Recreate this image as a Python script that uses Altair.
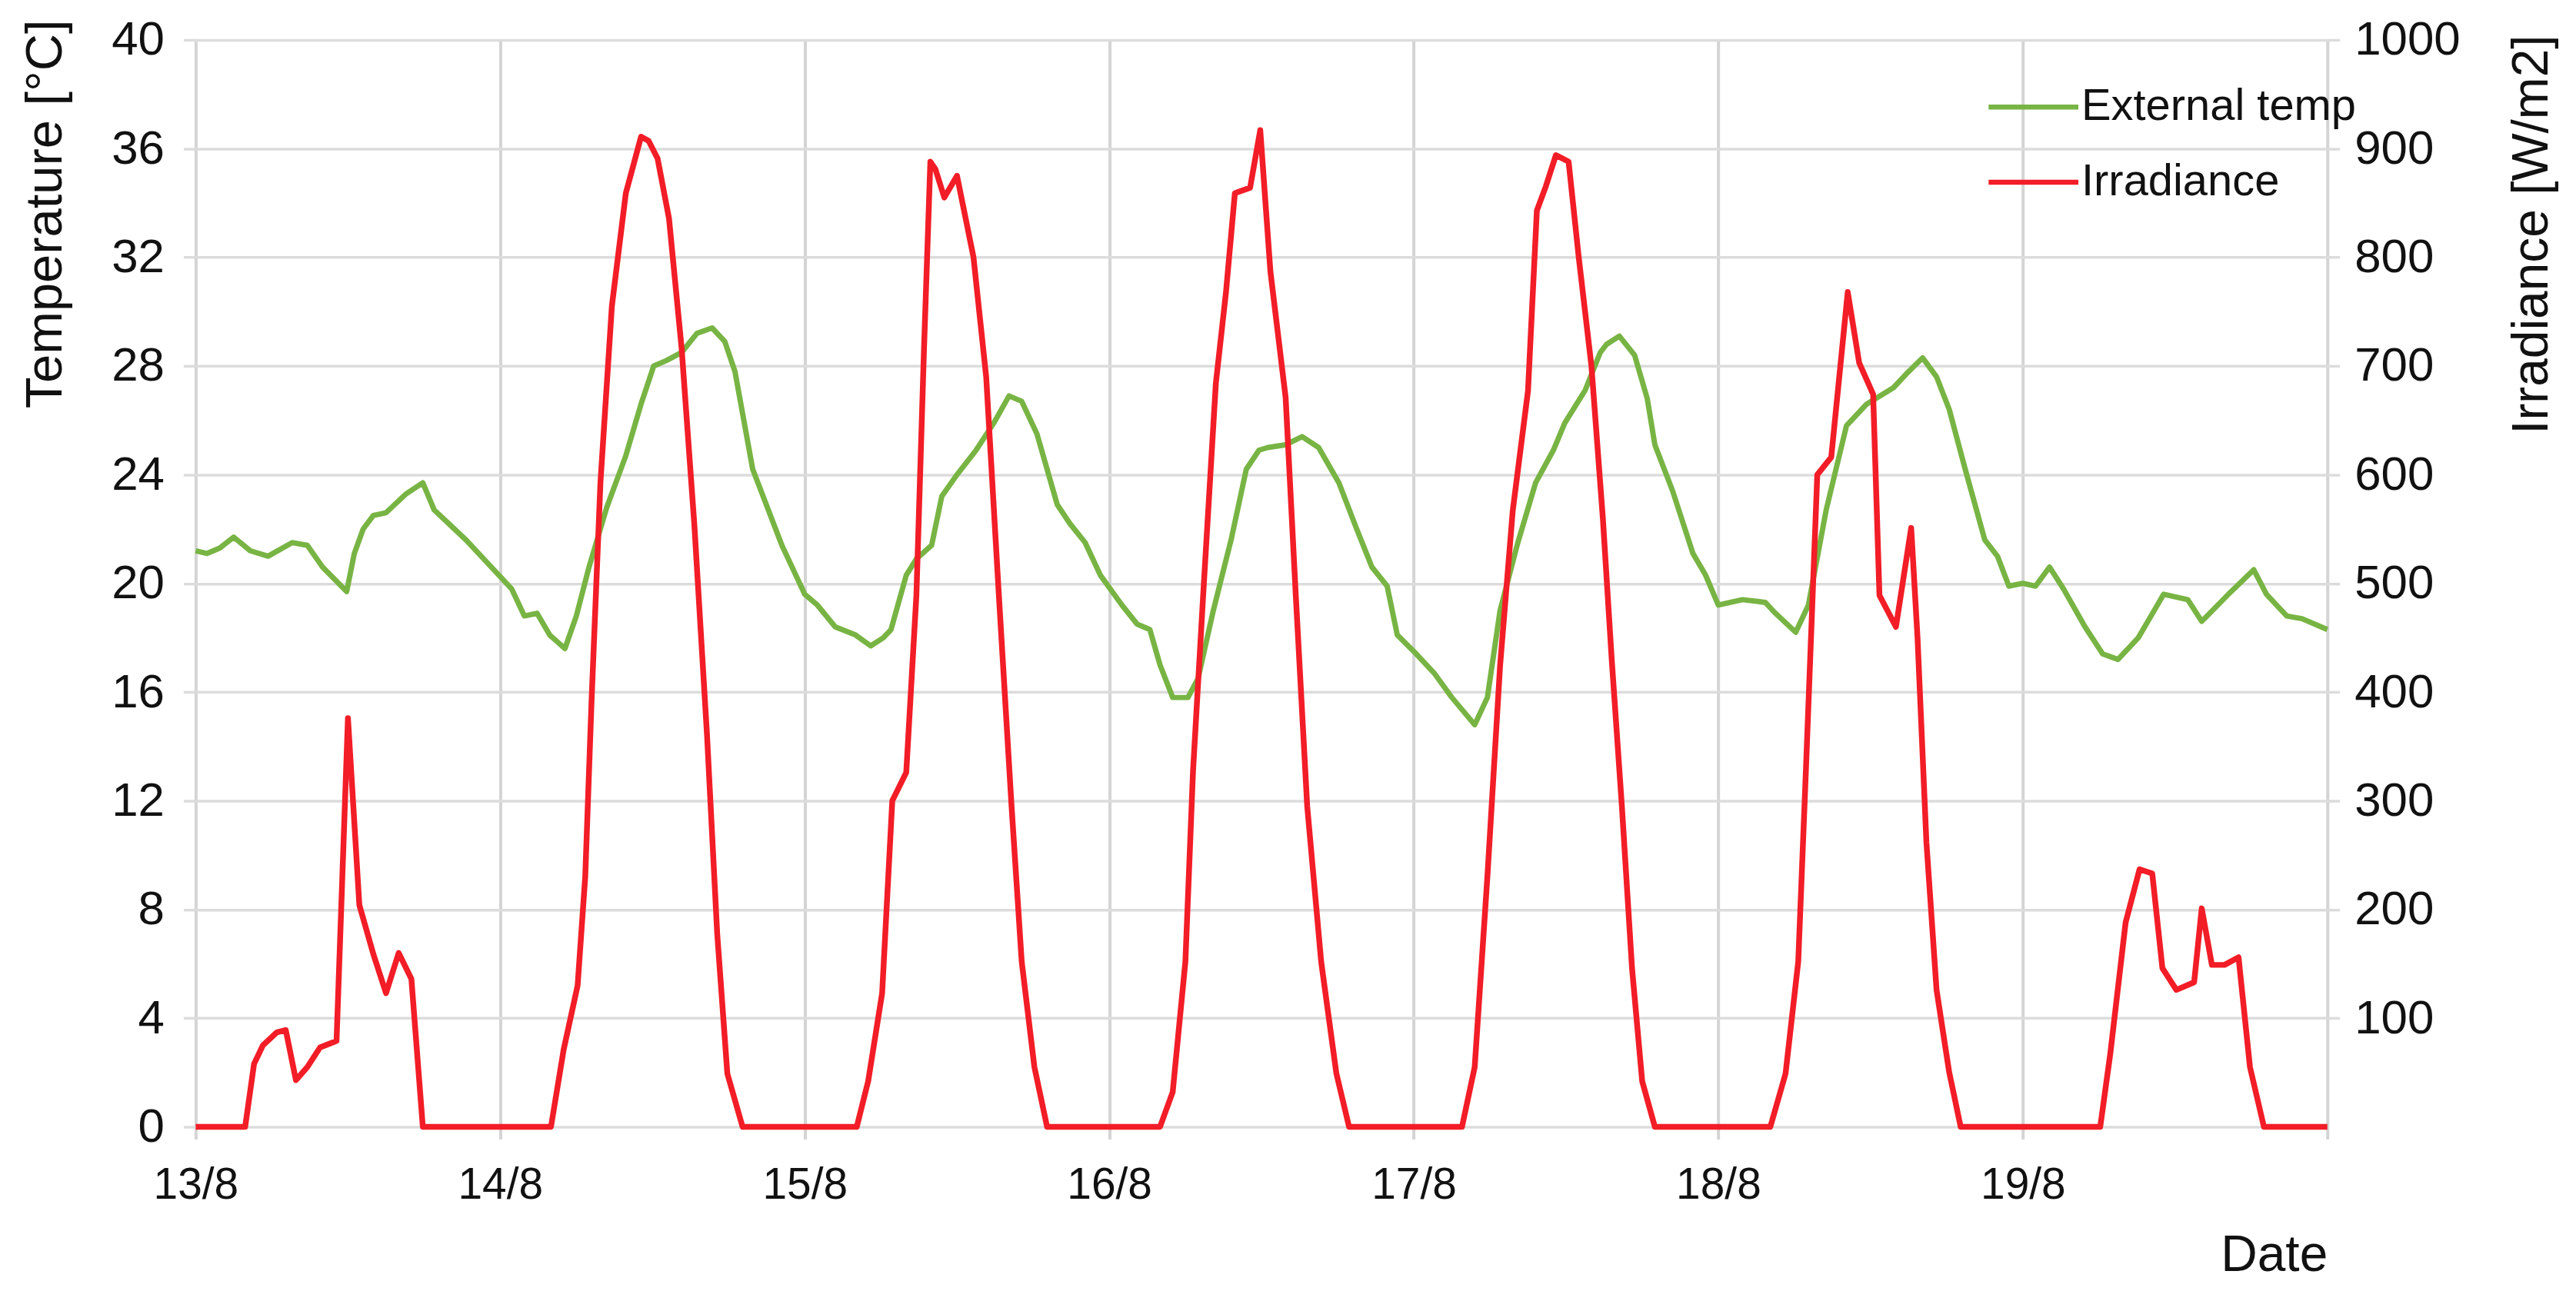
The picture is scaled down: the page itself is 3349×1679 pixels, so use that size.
import altair as alt
import pandas as pd

# ---------------- data ----------------
# hours since 13/8 00:00
temp_hours = [0, 0.9, 1.9, 3.0, 4.3, 5.7, 7.6, 8.8, 10.0, 11.9, 12.5, 13.2, 14.0, 15.0, 16.6, 17.9,
              18.8, 21.3, 23.9, 24.9, 25.9, 26.9, 27.9, 29.1, 30.0, 31.0, 32.4, 33.9, 35.1, 36.1,
              37.1, 38.3, 39.5, 40.7, 41.7, 42.5, 43.9, 46.2, 48.0, 49.0, 50.4, 52.0, 53.2, 54.2,
              54.8, 56.0, 56.8, 58.0, 58.8, 60.0, 61.5, 62.9, 64.1, 65.1, 66.3, 67.9, 68.9, 70.1,
              71.3, 73.0, 74.2, 75.2, 76.0, 77.0, 78.2, 79.0, 80.2, 81.6, 82.8, 83.8, 84.5, 85.9,
              87.2, 88.5, 90.1, 91.5, 92.7, 93.9, 94.7, 96.2, 97.6, 99.0, 100.8, 101.8, 102.8,
              104.2, 105.6, 107.0, 107.9, 109.5, 110.7, 111.2, 112.2, 113.4, 114.4, 115.0, 116.4,
              118.0, 119.0, 120.0, 121.9, 123.7, 124.5, 126.1, 127.1, 128.5, 130.1, 131.7, 133.8,
              134.8, 136.1, 137.2, 138.2, 139.4, 141.0, 142.0, 142.9, 144.0, 145.0, 146.1, 147.2,
              148.9, 150.3, 151.5, 153.1, 155.1, 157.0, 158.1, 160.2, 162.2, 163.2, 164.8, 166.0, 168.0]
temp_values = [21.2, 21.1, 21.3, 21.7, 21.2, 21.0, 21.5, 21.4, 20.6, 19.7, 21.1, 22.0, 22.5, 22.6, 23.3, 23.7,
               22.7, 21.6, 20.3, 19.8, 18.8, 18.9, 18.1, 17.6, 18.8, 20.6, 22.8, 24.7, 26.6, 28.0,
               28.2, 28.5, 29.2, 29.4, 28.9, 27.8, 24.2, 21.4, 19.6, 19.2, 18.4, 18.1, 17.7, 18.0,
               18.3, 20.3, 20.9, 21.4, 23.2, 24.0, 24.9, 25.9, 26.9, 26.7, 25.5, 22.9, 22.2, 21.5,
               20.3, 19.2, 18.5, 18.3, 17.0, 15.8, 15.8, 16.5, 19.0, 21.6, 24.2, 24.9, 25.0, 25.1,
               25.4, 25.0, 23.7, 22.0, 20.6, 19.9, 18.1, 17.4, 16.7, 15.8, 14.8, 15.8, 19.0,
               21.5, 23.7, 24.9, 25.9, 27.1, 28.5, 28.8, 29.1, 28.4, 26.8, 25.1, 23.4,
               21.1, 20.3, 19.2, 19.4, 19.3, 18.9, 18.2, 19.2, 22.7, 25.8, 26.6, 27.2,
               27.7, 28.3, 27.6, 26.4, 24.3, 21.6, 21.0, 19.9, 20.0, 19.9, 20.6, 19.8,
               18.4, 17.4, 17.2, 18.0, 19.6, 19.4, 18.6, 19.6, 20.5, 19.6, 18.8, 18.7, 18.3]

irr_hours = [0, 3.9, 4.6, 5.3, 6.4, 7.1, 7.9, 8.8, 9.8, 11.1, 12.0, 12.9, 14.0, 15.0, 16.0, 17.0, 17.9,
             28.0, 29.0, 30.1, 30.7, 31.2, 31.9, 32.8, 33.9, 35.1, 35.7, 36.4, 37.3, 38.3, 39.3, 40.3,
             41.1, 41.9, 43.1,
             52.1, 53.0, 54.1, 54.9, 56.0, 56.8, 57.4, 57.9, 58.3, 59.0, 60.0, 61.3, 62.3, 63.3, 64.3,
             65.1, 66.1, 67.1,
             76.0, 77.0, 78.0, 78.6, 79.4, 80.4, 81.2, 81.9, 83.1, 83.9, 84.7, 85.9, 86.7, 87.6, 88.7,
             89.9, 90.9,
             99.8, 100.8, 101.8, 102.8, 103.8, 105.0, 105.7, 106.4, 107.2, 108.2, 109.0, 110.0, 110.9,
             111.6, 112.4, 113.2, 114.0, 115.0,
             124.1, 125.3, 126.3, 126.9, 127.8, 128.9, 130.2, 131.1, 132.2, 132.7, 134.0, 135.2, 135.7,
             136.4, 137.2, 138.2, 139.1,
             150.1, 150.9, 152.1, 153.2, 154.2, 155.0, 156.1, 157.5, 158.1, 158.9, 159.9, 161.0, 161.9,
             163.0, 168.0]
irr_values = [0, 0, 58, 75, 87, 89, 43, 55, 73, 79, 376, 204, 159, 123, 160, 136, 0,
              0, 71, 130, 230, 392, 593, 755, 859, 911, 907, 891, 836, 716, 554, 360,
              178, 49, 0,
              0, 42, 123, 300, 326, 489, 716, 888, 881, 855, 875, 800, 690, 489, 295,
              152, 55, 0,
              0, 32, 152, 327, 489, 684, 768, 859, 864, 917, 787, 671, 489, 295, 152,
              49, 0,
              0, 55, 230, 424, 567, 677, 843, 865, 894, 888, 800, 700, 560,
              430, 295, 146, 42, 0,
              0, 49, 152, 327, 600, 616, 768, 703, 674, 489, 460, 551, 450,
              262, 126, 50, 0,
              0, 68, 188, 237, 233, 146, 126, 133, 201, 149, 149, 156, 55,
              0, 0]

day_labels = ["13/8", "14/8", "15/8", "16/8", "17/8", "18/8", "19/8", ""]
day_ticks = [0, 24, 48, 72, 96, 120, 144, 168]
temp_ticks = [0, 4, 8, 12, 16, 20, 24, 28, 32, 36, 40]
irr_ticks = [100, 200, 300, 400, 500, 600, 700, 800, 900, 1000]
series_names = ["External temp", "Irradiance"]
series_colors = ["#78b444", "#f21d27"]

temp_df = pd.DataFrame({"hour": temp_hours, "value": temp_values, "series": series_names[0]})
irr_df = pd.DataFrame({"hour": irr_hours, "value": irr_values, "series": series_names[1]})

# ---------------- styling ----------------
W, H = 2778, 1417
GRID_H = "#dcdcdc"
GRID_V = "#d4d4d4"
FONT = "Liberation Sans"
TXT = "#111111"
XLBL = 57
YLBL = 62
TTL = 66

label_expr = "[" + ",".join("'%s'" % s for s in day_labels) + "][round(datum.value/24)]"

x_enc = alt.X(
    "hour:Q",
    scale=alt.Scale(domain=[0, 168], nice=False, zero=False),
    axis=alt.Axis(
        values=day_ticks, labelExpr=label_expr, title="Date",
        grid=True, gridColor=GRID_V, gridWidth=4, domain=False,
        ticks=True, tickColor=GRID_V, tickWidth=4, tickSize=16,
        labelFont=FONT, labelFontSize=XLBL, labelColor=TXT, labelPadding=32,
        labelFlush=False, labelOverlap=False,
        titleFont=FONT, titleFontSize=TTL, titleFontWeight="normal", titleColor=TXT,
        titleX=W, titleY=167, titleAlign="right", titleBaseline="middle",
    ),
)

color_scale = alt.Scale(domain=series_names, range=series_colors)
legend = alt.Legend(
    title=None, orient="none", legendX=2362.5, legendY=55, padding=0,
    symbolType="M-2,0H2", symbolSize=3422, symbolStrokeWidth=6.5,
    labelFont=FONT, labelFontSize=58, labelColor=TXT, labelOffset=30,
    labelLimit=1000, rowPadding=36,
)
color_enc = alt.Color("series:N", scale=color_scale, legend=legend)

temp_line = alt.Chart(temp_df).mark_line(strokeWidth=7, strokeJoin="round").encode(
    x=x_enc,
    y=alt.Y(
        "value:Q",
        scale=alt.Scale(domain=[0, 40], nice=False),
        axis=alt.Axis(
            orient="left", values=temp_ticks, title="Temperature [°C]",
            grid=True, gridColor=GRID_H, gridWidth=3.5, domain=False,
            ticks=True, tickColor=GRID_H, tickWidth=3.5, tickSize=16,
            labelFont=FONT, labelFontSize=YLBL, labelColor=TXT, labelPadding=25,
            labelFlush=False, labelOverlap=False,
            titleFont=FONT, titleFontSize=67, titleFontWeight="normal", titleColor=TXT,
            titleX=-195, titleY=-27, titleAngle=270, titleAlign="right", titleBaseline="middle",
        ),
    ),
    color=color_enc,
)

irr_line = alt.Chart(irr_df).mark_line(strokeWidth=7.5, strokeJoin="round").encode(
    x=x_enc,
    y=alt.Y(
        "value:Q",
        scale=alt.Scale(domain=[0, 1000], nice=False),
        axis=alt.Axis(
            orient="right", values=irr_ticks, format="d", title="Irradiance [W/m2]",
            grid=False, domain=False,
            ticks=True, tickColor=GRID_H, tickWidth=3.5, tickSize=16,
            labelFont=FONT, labelFontSize=YLBL, labelColor=TXT, labelPadding=19,
            labelFlush=False, labelOverlap=False,
            titleFont=FONT, titleFontSize=TTL, titleFontWeight="normal", titleColor=TXT,
            titleX=266, titleY=-7, titleAngle=270, titleAlign="right", titleBaseline="middle",
        ),
    ),
    color=color_enc,
)

chart = (
    alt.layer(temp_line, irr_line)
    .resolve_scale(y="independent")
    .properties(
        width=W, height=H,
        padding={"left": 247, "top": 42, "right": 316, "bottom": 203},
        autosize=alt.AutoSizeParams(type="none"),
        background="white",
    )
    .configure_view(stroke=None)
)

chart.save("out.html", embed_options={"renderer": "svg", "actions": False})
